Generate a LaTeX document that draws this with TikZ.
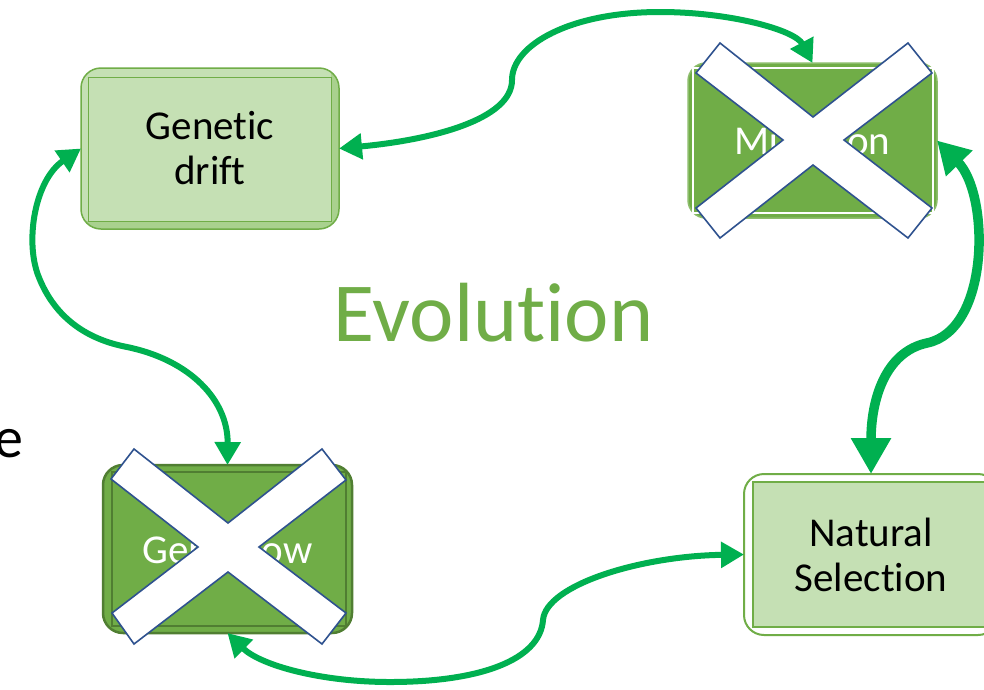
\documentclass[tikz,border=0pt]{standalone}
\usepackage{fontspec}
\setmainfont{Carlito}[Ligatures={NoCommon}]
\usetikzlibrary{arrows.meta,backgrounds}
\definecolor{arrowgreen}{HTML}{00B050}
\definecolor{lightfill}{HTML}{C5E0B4}
\definecolor{midfill}{HTML}{A9D18E}
\definecolor{accent}{HTML}{70AD47}
\definecolor{darkaccent}{HTML}{507E32}
\definecolor{xblue}{HTML}{2F528F}
\begin{document}
\begin{tikzpicture}[x=1pt,y=-1pt,
  boxtext/.style={font=\fontsize{41}{45}\selectfont, align=center, inner sep=0pt, outer sep=0pt},
  link/.style={draw=arrowgreen, line width=6pt, {Triangle[length=23pt,width=25pt]}-{Triangle[length=23pt,width=25pt]}},
  biglink/.style={draw=arrowgreen, line width=9.5pt, {Triangle[length=32pt,width=35pt]}-{Triangle[length=36pt,width=38pt]}},
  crossout/.style={fill=white, draw=xblue, line width=1.6pt, line join=miter}]
\useasboundingbox (0,0) rectangle (984,689);
\clip (0,0) rectangle (984,689);

% nodes
\node[boxtext, minimum width=258pt, minimum height=161pt] (gd) at (210,148.5) {Genetic\\drift};
\node[boxtext, text=white, minimum width=249pt, minimum height=155pt] (mut) at (812.5,140.5) {Mutation};
\node[boxtext, text=white, minimum width=249pt, minimum height=168pt] (gf) at (227.5,549) {Gene flow};
\node[boxtext, minimum width=254pt, minimum height=161pt] (ns) at (871,554.5) {Natural\\Selection};
\node[font=\fontsize{84}{100}\selectfont, text=accent, inner sep=0pt] (evo) at (493.5,313) {Evolution};
\node[font=\fontsize{58}{60}\selectfont, anchor=base east, inner sep=0pt] (cut) at (24,457) {e};

\begin{scope}[on background layer]
  \fill[white] (0,0) rectangle (984,689);
  % Genetic drift box
  \fill[midfill, rounded corners=20pt] (gd.north west) rectangle (gd.south east);
  \begin{scope}
    \clip[rounded corners=20pt] (gd.north west) rectangle (gd.south east);
    \fill[lightfill] (gd.north west) rectangle ([xshift=-8pt,yshift=8pt]gd.south east);
  \end{scope}
  \draw[accent, line width=1pt] ([xshift=7pt,yshift=-9pt]gd.north west) rectangle ([xshift=-8pt,yshift=8pt]gd.south east);
  \draw[accent, line width=1.5pt, rounded corners=20pt] (gd.north west) rectangle (gd.south east);
  % Mutation box
  \filldraw[fill=accent, draw=accent!80!white, line width=1.5pt, rounded corners=18pt] (mut.north west) rectangle (mut.south east);
  \draw[white, line width=1.5pt] ([xshift=5pt,yshift=-5pt]mut.north west) rectangle ([xshift=-4pt,yshift=5pt]mut.south east);
  % Gene flow box
  \filldraw[fill=accent, draw=darkaccent, line width=2.5pt, rounded corners=20pt] (gf.north west) rectangle (gf.south east);
  \draw[darkaccent, line width=2pt] ([xshift=9pt,yshift=-7pt]gf.north west) rectangle ([xshift=-6pt,yshift=7pt]gf.south east);
  % Natural selection box
  \fill[lightfill] ([xshift=9pt,yshift=-8pt]ns.north west) rectangle ([yshift=8pt]ns.south east);
  \draw[accent, line width=2pt] ([xshift=9pt,yshift=-8pt]ns.north west) rectangle ([xshift=10pt,yshift=8pt]ns.south east);
  \draw[accent, line width=2pt, rounded corners=20pt] (ns.north west) rectangle (ns.south east);
\end{scope}

% crosses
\draw[crossout] (813,117) -- (908,43) -- (932,73) -- (844,140) -- (932,208) -- (908,238) -- (813,165) -- (720,238) -- (696,208) -- (783,140) -- (696,73) -- (720,43) -- cycle;
\draw[crossout] (228,523) -- (322,449) -- (346,480) -- (259,547) -- (346,613) -- (322,644) -- (228,572) -- (134,644) -- (112,613) -- (198,547) -- (111,479) -- (134,449) -- cycle;

% connectors
\draw[link] (gd.east) .. controls (430,140) and (512,120) .. (512,80) .. controls (512,45) and (570,12) .. (660,12) .. controls (730,12) and (795,30) .. (mut.north);
\draw[biglink] (mut.east) .. controls (990,195) and (990,330) .. (927,343) .. controls (885,352) and (871,400) .. (ns.north);
\draw[link] (gd.west) .. controls (35,180) and (25,240) .. (38,275) .. controls (55,320) and (90,340) .. (127,347) .. controls (190,360) and (228,400) .. (gf.north);
\draw[link] (gf.south) .. controls (260,665) and (320,682) .. (390,682) .. controls (480,682) and (540,660) .. (543,620) .. controls (546,585) and (640,556) .. (ns.west);
\end{tikzpicture}
\end{document}
